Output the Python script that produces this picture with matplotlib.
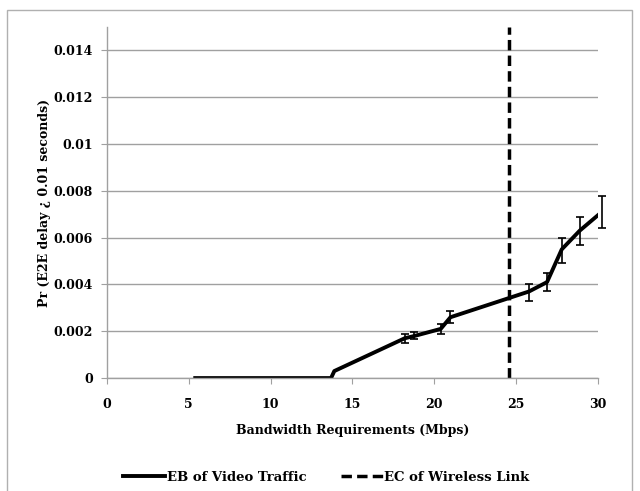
import matplotlib.pyplot as plt
from matplotlib.lines import Line2D
from matplotlib.patches import Rectangle

# EB of video traffic (line)
bw = [5.4, 7.0, 9.0, 11.0, 13.0, 13.7, 13.9, 18.2, 18.8, 20.4, 21.0, 25.8, 26.9, 27.8, 28.9, 30.25]
pr = [0, 0, 0, 0, 0, 0, 0.0003, 0.0017, 0.0018, 0.0021, 0.0026, 0.0037, 0.0041, 0.0055, 0.0063, 0.0071]

# error bars
err_x = [18.2, 18.8, 20.4, 21.0, 25.8, 26.9, 27.8, 28.9, 30.25]
err_y = [0.0017, 0.0018, 0.0021, 0.0026, 0.00365, 0.0041, 0.00545, 0.0063, 0.0071]
err_h = [0.0002, 0.00015, 0.0002, 0.00025, 0.00035, 0.0004, 0.00055, 0.0006, 0.0007]

# EC of wireless link
ec_x = 24.6

plt.rcParams['font.family'] = 'DejaVu Serif'
plt.rcParams['font.weight'] = 'bold'

fig = plt.figure(figsize=(6.4, 4.91), dpi=100)
ax = fig.add_axes([0.167, 0.230, 0.767, 0.715])

grey = '#a0a0a0'
ax.set_axisbelow(True)
ax.yaxis.grid(True, color=grey, linewidth=1)

ax.plot(bw, pr, color='black', linewidth=2.8, solid_joinstyle='round')
ax.errorbar(err_x, err_y, yerr=err_h, fmt='none', ecolor='black', elinewidth=1.2,
            capsize=3, capthick=1.2, clip_on=False)
ax.plot([ec_x, ec_x], [0, 0.015], color='black', linewidth=2.5, linestyle=(0, (3, 1.5)))

ax.set_xlim(0, 30)
ax.set_ylim(0, 0.015)
ax.set_xticks([0, 5, 10, 15, 20, 25, 30])
ax.set_yticks([0, 0.002, 0.004, 0.006, 0.008, 0.01, 0.012, 0.014])
ax.set_yticklabels(['0', '0.002', '0.004', '0.006', '0.008', '0.01', '0.012', '0.014'])

for s in ['top', 'right']:
    ax.spines[s].set_visible(False)
for s in ['left', 'bottom']:
    ax.spines[s].set_color(grey)
    ax.spines[s].set_linewidth(1)
ax.tick_params(axis='both', colors=grey, length=4, labelcolor='black', labelsize=9)
ax.tick_params(axis='x', pad=10)
ax.tick_params(axis='y', pad=6)

ax.set_xlabel('Bandwidth Requirements (Mbps)', fontsize=9, fontweight='bold', labelpad=10)
ax.set_ylabel('Pr (E2E delay ¿ 0.01 seconds)', fontsize=9, fontweight='bold', labelpad=2)

handles = [Line2D([], [], color='black', linewidth=2.8),
           Line2D([], [], color='black', linewidth=2.5, linestyle=(0, (3, 1.5)))]
fig.legend(handles, ['EB of Video Traffic', 'EC of Wireless Link'], loc='center',
           bbox_to_anchor=(0.51, 0.028), ncol=2, frameon=False, fontsize=9.5,
           handlelength=3.2, handletextpad=0.1, columnspacing=2.6)

fig.patches.append(Rectangle((7 / 640, -0.05), 625 / 640, 1.05 - 10 / 491,
                             transform=fig.transFigure, fill=False,
                             edgecolor='#b0b0b0', linewidth=1))

fig.savefig('out.png', dpi=100)
